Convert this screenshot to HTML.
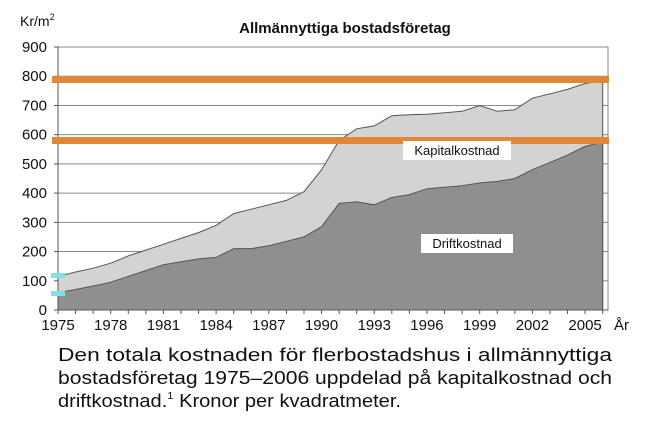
<!DOCTYPE html>
<html><head><meta charset="utf-8"><style>
html,body{margin:0;padding:0;background:#fff;}
body{width:650px;height:423px;overflow:hidden;}
svg text{font-family:"Liberation Sans",sans-serif;}
</style></head><body>
<svg id="s" width="650" height="423" viewBox="0 0 650 423" xmlns="http://www.w3.org/2000/svg">
<rect width="650" height="423" fill="#fff"/>
<g id="grid" stroke="#888" stroke-width="1"></g>
<path id="top" fill="#d3d3d3" stroke="#555" stroke-width="1"/>
<path id="bot" fill="#8f8f8f" stroke="#555" stroke-width="1"/>
<rect x="58" y="47" width="550" height="263" fill="none" stroke="#888" stroke-width="1"/>
<line x1="58" y1="47" x2="58" y2="310" stroke="#555"/>
<line x1="58" y1="310" x2="608" y2="310" stroke="#555"/>
<g id="ticks" stroke="#555"></g>
<g font-size="15" fill="#111" text-anchor="end" id="ylab"></g>
<g font-size="15" fill="#111" text-anchor="middle" id="xlab"></g>
<text x="614" y="330" font-size="15" fill="#111">År</text>
<text x="20" y="26" font-size="14" fill="#111">Kr/m<tspan font-size="9" dy="-6">2</tspan></text>
<text x="345" y="33" font-size="15" font-weight="bold" text-anchor="middle" fill="#111">Allmännyttiga bostadsföretag</text>
<rect x="52" y="76" width="557" height="7" fill="#e0873a"/>
<rect x="52" y="137" width="557" height="7" fill="#e0873a"/>
<rect x="51" y="273" width="14" height="5" fill="#7fe0e0"/>
<rect x="51" y="291" width="14" height="5" fill="#7fe0e0"/>
<rect x="403" y="141" width="108" height="19" fill="#fff"/>
<text x="457" y="155" font-size="13" text-anchor="middle" fill="#111">Kapitalkostnad</text>
<rect x="421" y="234" width="92" height="19" fill="#fff"/>
<text x="467" y="248" font-size="13" text-anchor="middle" fill="#111">Driftkostnad</text>
<g font-size="18" fill="#111">
<text x="58" y="361" textLength="554" lengthAdjust="spacingAndGlyphs">Den totala kostnaden för flerbostadshus i allmännyttiga</text>
<text x="58" y="384" textLength="554" lengthAdjust="spacingAndGlyphs">bostadsföretag 1975–2006 uppdelad på kapitalkostnad och</text>
<text x="58" y="407" textLength="343" lengthAdjust="spacingAndGlyphs">driftkostnad.<tspan font-size="10" dy="-8">1</tspan><tspan dy="8"> Kronor per kvadratmeter.</tspan></text>
</g>
</svg>
<script>
var top_=[115,130,143,160,185,205,225,245,265,290,330,345,360,375,405,480,580,620,630,665,668,670,675,680,700,680,685,725,740,755,775,785];
var bot=[60,70,82,95,115,135,155,165,175,180,210,210,220,235,250,285,365,370,360,385,395,415,420,425,435,440,450,480,505,530,560,575];
function X(i){return 58+i*17.57;}function Y(v){return 310-v*0.2922;}
function area(a){var d="M"+X(0)+","+Y(0);for(var i=0;i<a.length;i++)d+=" L"+X(i).toFixed(1)+","+Y(a[i]).toFixed(1);d+=" L"+X(a.length-1).toFixed(1)+","+Y(0)+"Z";return d;}
document.getElementById("top").setAttribute("d",area(top_));
document.getElementById("bot").setAttribute("d",area(bot));
var ns="http://www.w3.org/2000/svg";
var g=document.getElementById("grid"),yl=document.getElementById("ylab"),xl=document.getElementById("xlab"),tk=document.getElementById("ticks");
for(var v=100;v<=900;v+=100){var l=document.createElementNS(ns,"line");l.setAttribute("x1",58);l.setAttribute("x2",608);l.setAttribute("y1",Y(v));l.setAttribute("y2",Y(v));g.appendChild(l);}
for(var v=0;v<=900;v+=100){var t=document.createElementNS(ns,"text");t.setAttribute("x",47);t.setAttribute("y",Y(v)+5);t.textContent=v;yl.appendChild(t);
var k=document.createElementNS(ns,"line");k.setAttribute("x1",54);k.setAttribute("x2",58);k.setAttribute("y1",Y(v));k.setAttribute("y2",Y(v));tk.appendChild(k);}
for(var i=0;i<=31;i++){var k=document.createElementNS(ns,"line");k.setAttribute("x1",X(i));k.setAttribute("x2",X(i));k.setAttribute("y1",310);k.setAttribute("y2",314);tk.appendChild(k);
if(i%3==0){var t=document.createElementNS(ns,"text");t.setAttribute("x",X(i));t.setAttribute("y",330);t.textContent=1975+i;xl.appendChild(t);}}
</script>
</body></html>
